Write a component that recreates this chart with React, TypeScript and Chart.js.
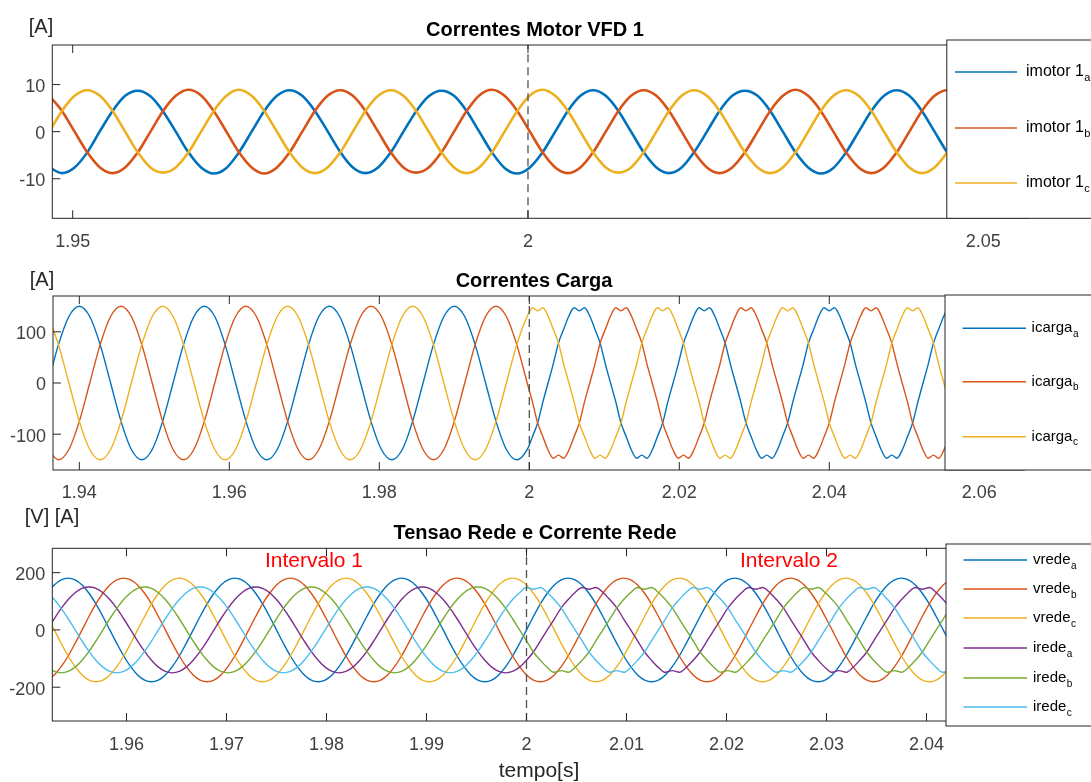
import React, { useEffect, useRef } from 'react';
import { Chart, registerables } from 'chart.js';

Chart.register(...registerables);

const FONT = '"Liberation Sans", Arial, Helvetica, sans-serif';
const W = 1091;
const EVENT_T = 2; // dashed marker time [s]

// ---------------- Panel 1 : Correntes Motor VFD 1 ----------------
const T1 = [
  1.94743,
  1.94882, 1.95021, 1.95160, 1.95299, 1.95438, 1.95576, 1.95715, 1.95854, 1.95993, 1.96132, 1.96271, 1.96410,
  1.96549, 1.96688, 1.96826, 1.96965, 1.97104, 1.97243, 1.97382, 1.97521, 1.97660, 1.97799, 1.97938, 1.98077,
  1.98215, 1.98354, 1.98493, 1.98632, 1.98771, 1.98910, 1.99049, 1.99188, 1.99326, 1.99465, 1.99604, 1.99743,
  1.99882, 2.00021, 2.00160, 2.00299, 2.00438, 2.00576, 2.00715, 2.00854, 2.00993, 2.01132, 2.01271, 2.01410,
  2.01549, 2.01688, 2.01826, 2.01965, 2.02104, 2.02243, 2.02382, 2.02521, 2.02660, 2.02799, 2.02938, 2.03077,
  2.03215, 2.03354, 2.03493, 2.03632, 2.03771, 2.03910, 2.04049, 2.04188, 2.04326, 2.04465, 2.04604, 2.04743,
];
const IMOTOR_A = [
  -7.6,
  -8.8, -7.6, -4.4, 0.1, 4.4, 7.6, 8.7, 7.5, 4.3, 0, -4.4, -7.6,
  -8.9, -7.7, -4.4, 0, 4.4, 7.6, 8.8, 7.6, 4.4, 0.1, -4.3, -7.6,
  -8.8, -7.6, -4.4, 0, 4.3, 7.5, 8.7, 7.6, 4.4, 0, -4.4, -7.7,
  -8.9, -7.6, -4.4, 0, 4.4, 7.6, 8.8, 7.6, 4.4, 0, -4.4, -7.6,
  -8.8, -7.6, -4.3, 0, 4.4, 7.6, 8.7, 7.6, 4.4, 0, -4.4, -7.6,
  -8.9, -7.7, -4.4, 0, 4.4, 7.6, 8.8, 7.6, 4.4, 0, -4.4, -7.6,
];
const IMOTOR_B = [
  7.6,
  4.4, 0, -4.4, -7.6, -8.8, -7.6, -4.4, 0, 4.4, 7.6, 8.9, 7.7,
  4.4, 0, -4.4, -7.6, -8.9, -7.6, -4.4, 0, 4.4, 7.6, 8.8, 7.6,
  4.4, 0, -4.4, -7.6, -8.7, -7.6, -4.4, 0, 4.4, 7.7, 8.9, 7.6,
  4.4, 0, -4.4, -7.6, -8.8, -7.6, -4.4, 0, 4.4, 7.6, 8.8, 7.6,
  4.4, 0, -4.4, -7.6, -8.8, -7.6, -4.4, 0, 4.4, 7.6, 8.9, 7.6,
  4.4, 0, -4.4, -7.6, -8.8, -7.6, -4.4, 0, 4.4, 7.6, 8.8, 7.6,
];
const IMOTOR_C = [
  0,
  4.4, 7.6, 8.8, 7.6, 4.4, 0, -4.4, -7.6, -8.7, -7.6, -4.4, 0,
  4.4, 7.6, 8.9, 7.6, 4.4, 0, -4.4, -7.6, -8.8, -7.6, -4.4, 0,
  4.4, 7.6, 8.8, 7.6, 4.4, 0, -4.4, -7.6, -8.8, -7.6, -4.4, 0,
  4.4, 7.7, 8.9, 7.6, 4.4, 0, -4.4, -7.6, -8.7, -7.6, -4.4, 0,
  4.4, 7.6, 8.8, 7.6, 4.4, 0, -4.4, -7.6, -8.8, -7.6, -4.4, 0,
  4.4, 7.6, 8.8, 7.6, 4.4, 0, -4.4, -7.6, -8.8, -7.6, -4.4, 0,
];
const X1_TICKS = [1.95, 2, 2.05];
const X1_TICK_LABELS = ['1.95', '2', '2.05'];
const Y1_TICKS = [-10, 0, 10];
const Y1_TICK_LABELS = ['-10', '0', '10'];

// ---------------- Panel 2 : Correntes Carga ----------------
const T2 = [
  1.93583, 1.93722, 1.93861,
  1.94000, 1.94139, 1.94278, 1.94417, 1.94556, 1.94694, 1.94833, 1.94972, 1.95111, 1.95250, 1.95389, 1.95528,
  1.95667, 1.95806, 1.95944, 1.96083, 1.96222, 1.96361, 1.96500, 1.96639, 1.96778, 1.96917, 1.97056, 1.97194,
  1.97333, 1.97472, 1.97611, 1.97750, 1.97889, 1.98028, 1.98167, 1.98306, 1.98444, 1.98583, 1.98722, 1.98861,
  1.99000, 1.99139, 1.99278, 1.99417, 1.99556, 1.99694, 1.99833, 1.99972,
  2.00042, 2.00111, 2.00181, 2.00250, 2.00319, 2.00389, 2.00458, 2.00528, 2.00597,
  2.00667, 2.00736, 2.00806, 2.00875, 2.00944, 2.01014, 2.01083, 2.01153, 2.01222, 2.01292, 2.01361, 2.01431,
  2.01500, 2.01569, 2.01639, 2.01708, 2.01778, 2.01847, 2.01917, 2.01986, 2.02056, 2.02125, 2.02194, 2.02264,
  2.02333, 2.02403, 2.02472, 2.02542, 2.02611, 2.02681, 2.02750, 2.02819, 2.02889, 2.02958, 2.03028, 2.03097,
  2.03167, 2.03236, 2.03306, 2.03375, 2.03444, 2.03514, 2.03583, 2.03653, 2.03722, 2.03792, 2.03861, 2.03931,
  2.04000, 2.04069, 2.04139, 2.04208, 2.04278, 2.04347, 2.04417, 2.04486, 2.04556, 2.04625, 2.04694, 2.04764,
  2.04833, 2.04903, 2.04972, 2.05042, 2.05111, 2.05181, 2.05250, 2.05319, 2.05389, 2.05458, 2.05528, 2.05597,
  2.05667,
];
const ICARGA_A = [
  0, 75, 130,
  150, 130, 75, 0, -75, -130, -150, -130, -75, 0, 75, 130,
  150, 130, 75, 0, -75, -130, -150, -130, -75, 0, 75, 130,
  150, 130, 75, 0, -75, -130, -150, -130, -75, 0, 75, 130,
  150, 130, 75, 0, -75, -130, -150, -130,
  -105, -78, -37, 0, 37, 78, 105, 131, 147,
  141, 147, 131, 105, 78, 37, 0, -37, -78, -105, -131, -147, -141, -147, -131, -105, -78, -37, 0, 37, 78, 105, 131, 147,
  141, 147, 131, 105, 78, 37, 0, -37, -78, -105, -131, -147, -141, -147, -131, -105, -78, -37, 0, 37, 78, 105, 131, 147,
  141, 147, 131, 105, 78, 37, 0, -37, -78, -105, -131, -147, -141, -147, -131, -105, -78, -37, 0, 37, 78, 105, 131, 147,
  141,
];
const ICARGA_B = [
  -130, -150, -130,
  -75, 0, 75, 130, 150, 130, 75, 0, -75, -130, -150, -130,
  -75, 0, 75, 130, 150, 130, 75, 0, -75, -130, -150, -130,
  -75, 0, 75, 130, 150, 130, 75, 0, -75, -130, -150, -130,
  -75, 0, 75, 130, 150, 130, 75, 0,
  -37, -78, -105, -131, -147, -141, -147, -131, -105,
  -78, -37, 0, 37, 78, 105, 131, 147, 141, 147, 131, 105, 78, 37, 0, -37, -78, -105, -131, -147, -141, -147, -131, -105,
  -78, -37, 0, 37, 78, 105, 131, 147, 141, 147, 131, 105, 78, 37, 0, -37, -78, -105, -131, -147, -141, -147, -131, -105,
  -78, -37, 0, 37, 78, 105, 131, 147, 141, 147, 131, 105, 78, 37, 0, -37, -78, -105, -131, -147, -141, -147, -131, -105,
  -78,
];
const ICARGA_C = [
  130, 75, 0,
  -75, -130, -150, -130, -75, 0, 75, 130, 150, 130, 75, 0,
  -75, -130, -150, -130, -75, 0, 75, 130, 150, 130, 75, 0,
  -75, -130, -150, -130, -75, 0, 75, 130, 150, 130, 75, 0,
  -75, -130, -150, -130, -75, 0, 75, 130,
  147, 141, 147, 131, 105, 78, 37, 0, -37,
  -78, -105, -131, -147, -141, -147, -131, -105, -78, -37, 0, 37, 78, 105, 131, 147, 141, 147, 131, 105, 78, 37, 0, -37,
  -78, -105, -131, -147, -141, -147, -131, -105, -78, -37, 0, 37, 78, 105, 131, 147, 141, 147, 131, 105, 78, 37, 0, -37,
  -78, -105, -131, -147, -141, -147, -131, -105, -78, -37, 0, 37, 78, 105, 131, 147, 141, 147, 131, 105, 78, 37, 0, -37,
  -78,
];
const X2_TICKS = [1.94, 1.96, 1.98, 2, 2.02, 2.04, 2.06];
const X2_TICK_LABELS = ['1.94', '1.96', '1.98', '2', '2.02', '2.04', '2.06'];
const Y2_TICKS = [-100, 0, 100];
const Y2_TICK_LABELS = ['-100', '0', '100'];

// ---------------- Panel 3 : Tensao Rede e Corrente Rede ----------------
const T3 = [
  1.95208, 1.95278, 1.95347,
  1.95417, 1.95486, 1.95556, 1.95625, 1.95694, 1.95764, 1.95833, 1.95903, 1.95972, 1.96042, 1.96111, 1.96181,
  1.96250, 1.96319, 1.96389, 1.96458, 1.96528, 1.96597, 1.96667, 1.96736, 1.96806, 1.96875, 1.96944, 1.97014,
  1.97083, 1.97153, 1.97222, 1.97292, 1.97361, 1.97431, 1.97500, 1.97569, 1.97639, 1.97708, 1.97778, 1.97847,
  1.97917, 1.97986, 1.98056, 1.98125, 1.98194, 1.98264, 1.98333, 1.98403, 1.98472, 1.98542, 1.98611, 1.98681,
  1.98750, 1.98819, 1.98889, 1.98958, 1.99028, 1.99097, 1.99167, 1.99236, 1.99306, 1.99375, 1.99444, 1.99514,
  1.99583, 1.99653, 1.99722, 1.99792, 1.99861, 1.99931, 2.00000, 2.00069, 2.00139, 2.00208, 2.00278, 2.00347,
  2.00417, 2.00486, 2.00556, 2.00625, 2.00694, 2.00764, 2.00833, 2.00903, 2.00972, 2.01042, 2.01111, 2.01181,
  2.01250, 2.01319, 2.01389, 2.01458, 2.01528, 2.01597, 2.01667, 2.01736, 2.01806, 2.01875, 2.01944, 2.02014,
  2.02083, 2.02153, 2.02222, 2.02292, 2.02361, 2.02431, 2.02500, 2.02569, 2.02639, 2.02708, 2.02778, 2.02847,
  2.02917, 2.02986, 2.03056, 2.03125, 2.03194, 2.03264, 2.03333, 2.03403, 2.03472, 2.03542, 2.03611, 2.03681,
  2.03750, 2.03819, 2.03889, 2.03958, 2.04028, 2.04097, 2.04167, 2.04236, 2.04306,
];
const VREDE_A = [
  128, 157, 175,
  181, 175, 157, 128, 91, 47, 0, -47, -91, -128, -157, -175, -181, -175, -157, -128, -91, -47, 0, 47, 91, 128, 157, 175,
  181, 175, 157, 128, 91, 47, 0, -47, -91, -128, -157, -175, -181, -175, -157, -128, -91, -47, 0, 47, 91, 128, 157, 175,
  181, 175, 157, 128, 91, 47, 0, -47, -91, -128, -157, -175, -181, -175, -157, -128, -91, -47, 0, 47, 91, 128, 157, 175,
  181, 175, 157, 128, 91, 47, 0, -47, -91, -128, -157, -175, -181, -175, -157, -128, -91, -47, 0, 47, 91, 128, 157, 175,
  181, 175, 157, 128, 91, 47, 0, -47, -91, -128, -157, -175, -181, -175, -157, -128, -91, -47, 0, 47, 91, 128, 157, 175,
  181, 175, 157, 128, 91, 47, 0, -47, -91,
];
const VREDE_B = [
  -175, -157, -128,
  -91, -47, 0, 47, 91, 128, 157, 175, 181, 175, 157, 128, 91, 47, 0, -47, -91, -128, -157, -175, -181, -175, -157, -128,
  -91, -47, 0, 47, 91, 128, 157, 175, 181, 175, 157, 128, 91, 47, 0, -47, -91, -128, -157, -175, -181, -175, -157, -128,
  -91, -47, 0, 47, 91, 128, 157, 175, 181, 175, 157, 128, 91, 47, 0, -47, -91, -128, -157, -175, -181, -175, -157, -128,
  -91, -47, 0, 47, 91, 128, 157, 175, 181, 175, 157, 128, 91, 47, 0, -47, -91, -128, -157, -175, -181, -175, -157, -128,
  -91, -47, 0, 47, 91, 128, 157, 175, 181, 175, 157, 128, 91, 47, 0, -47, -91, -128, -157, -175, -181, -175, -157, -128,
  -91, -47, 0, 47, 91, 128, 157, 175, 181,
];
const VREDE_C = [
  47, 0, -47,
  -91, -128, -157, -175, -181, -175, -157, -128, -91, -47, 0, 47, 91, 128, 157, 175, 181, 175, 157, 128, 91, 47, 0, -47,
  -91, -128, -157, -175, -181, -175, -157, -128, -91, -47, 0, 47, 91, 128, 157, 175, 181, 175, 157, 128, 91, 47, 0, -47,
  -91, -128, -157, -175, -181, -175, -157, -128, -91, -47, 0, 47, 91, 128, 157, 175, 181, 175, 157, 128, 91, 47, 0, -47,
  -91, -128, -157, -175, -181, -175, -157, -128, -91, -47, 0, 47, 91, 128, 157, 175, 181, 175, 157, 128, 91, 47, 0, -47,
  -91, -128, -157, -175, -181, -175, -157, -128, -91, -47, 0, 47, 91, 128, 157, 175, 181, 175, 157, 128, 91, 47, 0, -47,
  -91, -128, -157, -175, -181, -175, -157, -128, -91,
];
const IREDE_A = [
  0, 39, 75,
  106, 130, 145, 150, 145, 130, 106, 75, 39, 0, -39, -75, -106, -130, -145, -150, -145, -130, -106, -75, -39, 0, 39, 75,
  106, 130, 145, 150, 145, 130, 106, 75, 39, 0, -39, -75, -106, -130, -145, -150, -145, -130, -106, -75, -39, 0, 39, 75,
  106, 130, 145, 150, 145, 130, 106, 75, 39, 0, -39, -75, -106, -130, -145, -150, -145, -130, -106, -77, -38, 0, 38, 77,
  106, 131, 148, 142, 148, 131, 106, 77, 38, 0, -38, -77, -106, -131, -148, -142, -148, -131, -106, -77, -38, 0, 38, 77,
  106, 131, 148, 142, 148, 131, 106, 77, 38, 0, -38, -77, -106, -131, -148, -142, -148, -131, -106, -77, -38, 0, 38, 77,
  106, 131, 148, 142, 148, 131, 106, 77, 38,
];
const IREDE_B = [
  -130, -145, -150,
  -145, -130, -106, -75, -39, 0, 39, 75, 106, 130, 145, 150, 145, 130, 106, 75, 39, 0, -39, -75, -106, -130, -145, -150,
  -145, -130, -106, -75, -39, 0, 39, 75, 106, 130, 145, 150, 145, 130, 106, 75, 39, 0, -39, -75, -106, -130, -145, -150,
  -145, -130, -106, -75, -39, 0, 39, 75, 106, 130, 145, 150, 145, 130, 106, 75, 39, 0, -38, -77, -106, -131, -148, -142,
  -148, -131, -106, -77, -38, 0, 38, 77, 106, 131, 148, 142, 148, 131, 106, 77, 38, 0, -38, -77, -106, -131, -148, -142,
  -148, -131, -106, -77, -38, 0, 38, 77, 106, 131, 148, 142, 148, 131, 106, 77, 38, 0, -38, -77, -106, -131, -148, -142,
  -148, -131, -106, -77, -38, 0, 38, 77, 106,
];
const IREDE_C = [
  130, 106, 75,
  39, 0, -39, -75, -106, -130, -145, -150, -145, -130, -106, -75, -39, 0, 39, 75, 106, 130, 145, 150, 145, 130, 106, 75,
  39, 0, -39, -75, -106, -130, -145, -150, -145, -130, -106, -75, -39, 0, 39, 75, 106, 130, 145, 150, 145, 130, 106, 75,
  39, 0, -39, -75, -106, -130, -145, -150, -145, -130, -106, -75, -39, 0, 39, 75, 106, 130, 148, 142, 148, 131, 106, 77,
  38, 0, -38, -77, -106, -131, -148, -142, -148, -131, -106, -77, -38, 0, 38, 77, 106, 131, 148, 142, 148, 131, 106, 77,
  38, 0, -38, -77, -106, -131, -148, -142, -148, -131, -106, -77, -38, 0, 38, 77, 106, 131, 148, 142, 148, 131, 106, 77,
  38, 0, -38, -77, -106, -131, -148, -142, -148,
];
const X3_TICKS = [1.96, 1.97, 1.98, 1.99, 2, 2.01, 2.02, 2.03, 2.04];
const X3_TICK_LABELS = ['1.96', '1.97', '1.98', '1.99', '2', '2.01', '2.02', '2.03', '2.04'];
const Y3_TICKS = [-200, 0, 200];
const Y3_TICK_LABELS = ['-200', '0', '200'];

// ---------------- styling ----------------
const C_BLUE = '#0072BD';
const C_ORANGE = '#D95319';
const C_YELLOW = '#EDB120';
const C_PURPLE = '#7E2F8E';
const C_GREEN = '#77AC30';
const C_CYAN = '#4DBEEE';
const AXIS_COLOR = '#262626';
const TICK_LABEL_COLOR = '#404040';

interface Series { label: string; sub: string; color: string; values: number[] }
interface TextItem { text: string; x: number; y: number; font: string; color: string }
interface Spec {
  top: number; height: number;
  area: { left: number; top: number; right: number; bottom: number };
  xMin: number; xMax: number; yMin: number; yMax: number;
  xTicks: number[]; xTickLabels: string[]; yTicks: number[]; yTickLabels: string[];
  xPad: number; lineWidth: number;
  times: number[]; series: Series[];
  legend: { left: number; top: number; bottom: number; ys: number[]; x1: number; x2: number; tx: number; font: number };
  texts: TextItem[];
}

const P1: Spec = {
  top: 0, height: 258,
  area: { left: 52.3, top: 45, right: 1028.8, bottom: 218.3 },
  xMin: 1.94776, xMax: 2.055, yMin: -18.4, yMax: 18.4,
  xTicks: X1_TICKS, xTickLabels: X1_TICK_LABELS, yTicks: Y1_TICKS, yTickLabels: Y1_TICK_LABELS,
  xPad: 12.5, lineWidth: 2.6,
  times: T1,
  series: [
    { label: 'imotor 1', sub: 'a', color: C_BLUE, values: IMOTOR_A },
    { label: 'imotor 1', sub: 'b', color: C_ORANGE, values: IMOTOR_B },
    { label: 'imotor 1', sub: 'c', color: C_YELLOW, values: IMOTOR_C },
  ],
  legend: { left: 946.8, top: 40, bottom: 218.3, ys: [72, 128, 183], x1: 955, x2: 1017, tx: 1026, font: 16 },
  texts: [
    { text: '[A]', x: 41, y: 27, font: `20px ${FONT}`, color: AXIS_COLOR },
    { text: 'Correntes Motor VFD 1', x: 535, y: 30, font: `bold 20px ${FONT}`, color: '#000' },
  ],
};

const P2: Spec = {
  top: 258, height: 247,
  area: { left: 53, top: 38, right: 1024.3, bottom: 212 },
  xMin: 1.93649, xMax: 2.066, yMin: -170, yMax: 170,
  xTicks: X2_TICKS, xTickLabels: X2_TICK_LABELS, yTicks: Y2_TICKS, yTickLabels: Y2_TICK_LABELS,
  xPad: 12.5, lineWidth: 1.4,
  times: T2,
  series: [
    { label: 'icarga', sub: 'a', color: C_BLUE, values: ICARGA_A },
    { label: 'icarga', sub: 'b', color: C_ORANGE, values: ICARGA_B },
    { label: 'icarga', sub: 'c', color: C_YELLOW, values: ICARGA_C },
  ],
  legend: { left: 945, top: 37, bottom: 212, ys: [70.3, 123.7, 178.7], x1: 962.5, x2: 1026, tx: 1031.6, font: 15 },
  texts: [
    { text: '[A]', x: 42, y: 22, font: `20px ${FONT}`, color: AXIS_COLOR },
    { text: 'Correntes Carga', x: 534, y: 23, font: `bold 20px ${FONT}`, color: '#000' },
  ],
};

const P3: Spec = {
  top: 505, height: 277,
  area: { left: 52.3, top: 43.3, right: 976.5, bottom: 216 },
  xMin: 1.95258, xMax: 2.045, yMin: -318, yMax: 285,
  xTicks: X3_TICKS, xTickLabels: X3_TICK_LABELS, yTicks: Y3_TICKS, yTickLabels: Y3_TICK_LABELS,
  xPad: 13, lineWidth: 1.4,
  times: T3,
  series: [
    { label: 'vrede', sub: 'a', color: C_BLUE, values: VREDE_A },
    { label: 'vrede', sub: 'b', color: C_ORANGE, values: VREDE_B },
    { label: 'vrede', sub: 'c', color: C_YELLOW, values: VREDE_C },
    { label: 'irede', sub: 'a', color: C_PURPLE, values: IREDE_A },
    { label: 'irede', sub: 'b', color: C_GREEN, values: IREDE_B },
    { label: 'irede', sub: 'c', color: C_CYAN, values: IREDE_C },
  ],
  legend: { left: 946, top: 39, bottom: 221, ys: [55, 84, 113, 143, 173, 202], x1: 963.5, x2: 1027, tx: 1033, font: 15 },
  texts: [
    { text: '[V] [A]', x: 52, y: 12, font: `20px ${FONT}`, color: AXIS_COLOR },
    { text: 'Tensao Rede e Corrente Rede', x: 535, y: 28, font: `bold 20px ${FONT}`, color: '#000' },
    { text: 'Intervalo 1', x: 314, y: 56, font: `21px ${FONT}`, color: '#FF0000' },
    { text: 'Intervalo 2', x: 789, y: 56, font: `21px ${FONT}`, color: '#FF0000' },
    { text: 'tempo[s]', x: 539, y: 266, font: `21px ${FONT}`, color: AXIS_COLOR },
  ],
};

const TICK_LEN = 8;

function overlayPlugin(s: Spec) {
  return {
    id: 'matlabOverlay',
    afterDatasetsDraw(chart: any) {
      const { ctx, chartArea: a, scales } = chart;
      const xs = scales.x;
      const ys = scales.y;
      ctx.save();
      ctx.strokeStyle = AXIS_COLOR;
      ctx.lineWidth = 1;
      ctx.strokeRect(a.left, a.top, a.right - a.left, a.bottom - a.top);
      ctx.beginPath();
      s.xTicks.forEach((v) => {
        const px = xs.getPixelForValue(v);
        ctx.moveTo(px, a.bottom);
        ctx.lineTo(px, a.bottom - TICK_LEN);
        ctx.moveTo(px, a.top);
        ctx.lineTo(px, a.top + TICK_LEN);
      });
      s.yTicks.forEach((v) => {
        const py = ys.getPixelForValue(v);
        ctx.moveTo(a.left, py);
        ctx.lineTo(a.left + TICK_LEN, py);
        ctx.moveTo(a.right, py);
        ctx.lineTo(a.right - TICK_LEN, py);
      });
      ctx.stroke();
      ctx.restore();
    },
    afterDraw(chart: any) {
      const { ctx } = chart;
      const L = s.legend;
      ctx.save();
      // legend box (clipped by the window edge)
      ctx.fillStyle = '#ffffff';
      ctx.fillRect(L.left, L.top, W - L.left + 20, L.bottom - L.top);
      ctx.strokeStyle = AXIS_COLOR;
      ctx.lineWidth = 1;
      ctx.strokeRect(L.left, L.top, W - L.left + 20, L.bottom - L.top);
      s.series.forEach((ser, i) => {
        const y = L.ys[i];
        ctx.strokeStyle = ser.color;
        ctx.lineWidth = 1.5;
        ctx.beginPath();
        ctx.moveTo(L.x1, y);
        ctx.lineTo(L.x2, y);
        ctx.stroke();
        ctx.fillStyle = '#000';
        ctx.textAlign = 'left';
        ctx.textBaseline = 'middle';
        ctx.font = `${L.font}px ${FONT}`;
        ctx.fillText(ser.label, L.tx, y);
        const w = ctx.measureText(ser.label).width;
        ctx.font = `${Math.round(L.font * 0.68)}px ${FONT}`;
        ctx.fillText(ser.sub, L.tx + w + 0.5, y + 6);
      });
      // texts
      s.texts.forEach((t) => {
        ctx.font = t.font;
        ctx.fillStyle = t.color;
        ctx.textAlign = 'center';
        ctx.textBaseline = 'middle';
        ctx.fillText(t.text, t.x, t.y);
      });
      ctx.restore();
    },
  };
}

function makeChart(canvas: HTMLCanvasElement, s: Spec) {
  const n = s.series.length;
  const datasets: any[] = s.series.map((ser, i) => ({
    label: ser.label + ser.sub,
    data: s.times.map((t, k) => ({ x: t, y: ser.values[k] })),
    borderColor: ser.color,
    backgroundColor: ser.color,
    borderWidth: s.lineWidth,
    pointRadius: 0,
    fill: false,
    cubicInterpolationMode: 'monotone',
    order: n - i + 1,
  }));
  datasets.push({
    label: 'marker',
    data: [{ x: EVENT_T, y: s.yMin }, { x: EVENT_T, y: s.yMax }],
    borderColor: '#505050',
    borderWidth: 1.3,
    borderDash: [8, 5],
    pointRadius: 0,
    fill: false,
    order: 0,
  });
  const tickFont = { family: FONT, size: 18 };
  return new Chart(canvas, {
    type: 'line',
    data: { datasets },
    options: {
      responsive: false,
      animation: false,
      devicePixelRatio: 1,
      events: [],
      layout: { padding: { left: 0, top: s.area.top, right: W - s.area.right, bottom: 0 } },
      plugins: { legend: { display: false }, tooltip: { enabled: false }, title: { display: false } },
      elements: { point: { radius: 0 } },
      scales: {
        x: {
          type: 'linear',
          bounds: 'data',
          min: s.xMin,
          max: s.xMax,
          afterBuildTicks: (sc: any) => { sc.ticks = s.xTicks.map((v) => ({ value: v })); },
          afterFit: (sc: any) => { sc.height = s.height - s.area.bottom; },
          grid: { display: false, drawTicks: false },
          border: { display: false },
          ticks: {
            autoSkip: false, maxRotation: 0, minRotation: 0, padding: s.xPad,
            color: TICK_LABEL_COLOR, font: tickFont,
            callback: (_v: any, i: number) => s.xTickLabels[i],
          },
        },
        y: {
          type: 'linear',
          bounds: 'data',
          min: s.yMin,
          max: s.yMax,
          afterBuildTicks: (sc: any) => { sc.ticks = s.yTicks.map((v) => ({ value: v })); },
          afterFit: (sc: any) => { sc.width = s.area.left; },
          grid: { display: false, drawTicks: false },
          border: { display: false },
          ticks: {
            autoSkip: false, padding: 7, labelOffset: 2.5,
            color: TICK_LABEL_COLOR, font: tickFont,
            callback: (_v: any, i: number) => s.yTickLabels[i],
          },
        },
      },
    } as any,
    plugins: [overlayPlugin(s)],
  });
}

export default function App() {
  const r1 = useRef<HTMLCanvasElement>(null);
  const r2 = useRef<HTMLCanvasElement>(null);
  const r3 = useRef<HTMLCanvasElement>(null);
  useEffect(() => {
    const charts = [
      makeChart(r1.current as HTMLCanvasElement, P1),
      makeChart(r2.current as HTMLCanvasElement, P2),
      makeChart(r3.current as HTMLCanvasElement, P3),
    ];
    return () => charts.forEach((c) => c.destroy());
  }, []);
  const specs = [P1, P2, P3];
  const refs = [r1, r2, r3];
  return (
    <div style={{ position: 'fixed', left: 0, top: 0, width: W, height: 782, background: '#fff', overflow: 'hidden' }}>
      {specs.map((s, i) => (
        <canvas
          key={i}
          ref={refs[i]}
          width={W}
          height={s.height}
          style={{ position: 'absolute', left: 0, top: s.top, width: W, height: s.height, display: 'block' }}
        />
      ))}
    </div>
  );
}
